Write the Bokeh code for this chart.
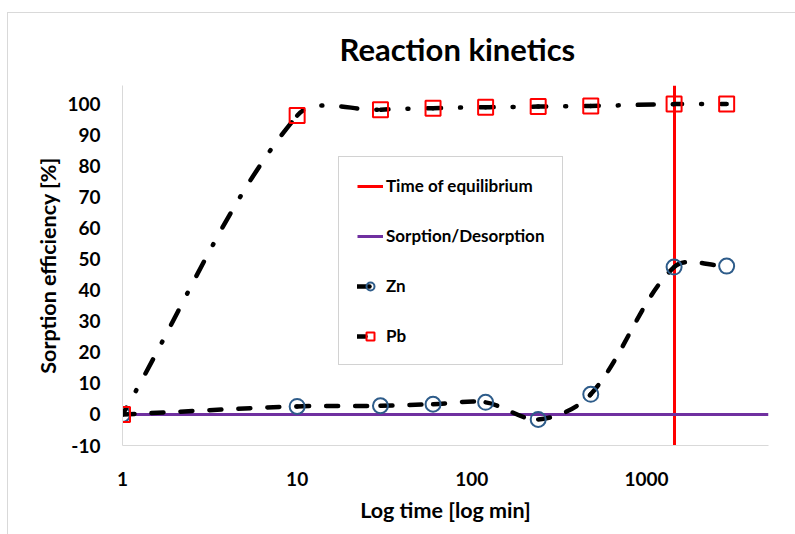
import math
from bokeh.plotting import figure
from bokeh.models import (Range1d, FixedTicker, Legend, LegendItem, InlineStyleSheet)
from bokeh.embed import file_html
from bokeh.resources import INLINE

# ---------------- data ----------------
time_min = [1, 10, 30, 60, 120, 240, 480, 1440, 2880]
zn_eff = [0, 2.6, 2.8, 3.3, 3.9, -1.6, 6.5, 47.5, 47.8]
pb_eff = [0, 96.3, 98.2, 98.7, 99.0, 99.2, 99.4, 100.0, 100.0]
equilibrium_time = [1440]
sorption_zero = [0]
x_ticks = [1, 10, 100, 1000]
x_tick_labels = ["1", "10", "100", "1000"]
y_ticks = [-10, 0, 10, 20, 30, 40, 50, 60, 70, 80, 90, 100]
y_tick_labels = ["-10", "0", "10", "20", "30", "40", "50", "60", "70", "80", "90", "100"]

FONT = "Lato"

# screen scale (px per decade / px per unit) used to shape the smoothed curve
SX, SY = 174.7, 3.11


def smooth_segments(xs, ys):
    """Cubic Bezier control points (Excel-like smoothing) in log-x space."""
    X = [math.log10(v) * SX for v in xs]
    Y = [v * SY for v in ys]
    n = len(X)

    def d(i, j):
        return math.hypot(X[j] - X[i], Y[j] - Y[i])

    out = {k: [] for k in ("x0", "y0", "x1", "y1", "cx0", "cy0", "cx1", "cy1")}
    for i in range(n - 1):
        im1 = max(i - 1, 0)
        ip2 = min(i + 2, n - 1)
        d01, d12, d23 = d(im1, i), d(i, i + 1), d(i + 1, ip2)
        r1 = d12 / (d01 + d12)
        r2 = d12 / (d12 + d23)
        c1x = X[i] + (X[i + 1] - X[im1]) * r1 / 3
        c1y = Y[i] + (Y[i + 1] - Y[im1]) * r1 / 3
        c2x = X[i + 1] - (X[ip2] - X[i]) * r2 / 3
        c2y = Y[i + 1] - (Y[ip2] - Y[i]) * r2 / 3
        out["x0"].append(xs[i]); out["y0"].append(ys[i])
        out["x1"].append(xs[i + 1]); out["y1"].append(ys[i + 1])
        out["cx0"].append(10 ** (c1x / SX)); out["cy0"].append(c1y / SY)
        out["cx1"].append(10 ** (c2x / SX)); out["cy1"].append(c2y / SY)
    return out


# light grey chart-area border (top and left edges visible, as in the reference)
chart_border = InlineStyleSheet(css="""
:host::after {
  content: "";
  position: absolute;
  left: 7px; top: 12px; right: 0; bottom: 0;
  border-top: 1px solid #D9D9D9;
  border-left: 1px solid #D9D9D9;
  pointer-events: none;
}
""")

p = figure(width=795, height=534, x_axis_type="log",
           x_range=Range1d(1, 5000), y_range=Range1d(-10, 106),
           output_backend="svg", toolbar_location=None,
           min_border_left=122, min_border_right=27,
           min_border_top=85, min_border_bottom=89,
           title="Reaction kinetics", stylesheets=[chart_border])

p.outline_line_color = None
p.xgrid.visible = False
p.ygrid.visible = False

# title
p.title.text_font = FONT
p.title.text_font_size = "31px"
p.title.text_font_style = "bold"
p.title.text_color = "#000000"
p.title.align = "left"
p.title.offset = 217
p.title.standoff = 36

# axes
for ax in (p.xaxis[0], p.yaxis[0]):
    ax.axis_line_color = "#D9D9D9"
    ax.axis_line_width = 1
    ax.major_tick_line_color = None
    ax.minor_tick_line_color = None
    ax.major_label_text_font = FONT
    ax.major_label_text_font_size = "19px"
    ax.major_label_text_font_style = "bold"
    ax.major_label_text_color = "#000000"
    ax.axis_label_text_font = FONT
    ax.axis_label_text_font_size = "21.5px"
    ax.axis_label_text_font_style = "bold"
    ax.axis_label_text_color = "#000000"

p.xaxis.ticker = FixedTicker(ticks=x_ticks, minor_ticks=[])
p.xaxis.major_label_overrides = dict(zip(x_ticks, x_tick_labels))
p.yaxis.ticker = FixedTicker(ticks=y_ticks, minor_ticks=[])
p.yaxis.major_label_overrides = dict(zip(y_ticks, y_tick_labels))
p.xaxis.axis_label = "Log time [log min]"
p.yaxis.axis_label = "Sorption efficiency [%]"
p.xaxis.major_label_standoff = 20
p.xaxis.axis_label_standoff = 8
p.yaxis.major_label_standoff = 16
p.yaxis.axis_label_standoff = 3

# reference lines (glyph renderers so they appear in the legend)
eq_line = p.vspan(x=equilibrium_time, line_color="#FF0000", line_width=3)
zero_line = p.hspan(y=sorption_zero, line_color="#7030A0", line_width=3)

ZN_DASH = "12 17"
PB_DASH = "16 19 1 19"
LW = 4.5

zn_seg = smooth_segments(time_min, zn_eff)
pb_seg = smooth_segments(time_min, pb_eff)

zn_curve = p.bezier(line_color="black", line_width=LW, line_dash=ZN_DASH,
                    line_cap="round", **zn_seg)
zn_pts = p.scatter(time_min, zn_eff, marker="circle", size=15,
                   line_color="#2E5C8A", line_width=2, fill_color=None)
pb_curve = p.bezier(line_color="black", line_width=LW, line_dash=PB_DASH,
                    line_dash_offset=8, line_cap="round", **pb_seg)
pb_pts = p.scatter(time_min, pb_eff, marker="square", size=15,
                   line_color="#FF0000", line_width=2, fill_color=None)

legend = Legend(items=[
    LegendItem(label="Time of equilibrium", renderers=[eq_line]),
    LegendItem(label="Sorption/Desorption", renderers=[zero_line]),
    LegendItem(label="Zn", renderers=[zn_curve, zn_pts]),
    LegendItem(label="Pb", renderers=[pb_curve, pb_pts]),
], location=(216, 80), padding=18, spacing=29, margin=0,
    glyph_width=26, glyph_height=20, label_height=20, label_standoff=3,
    label_text_font=FONT, label_text_font_style="bold",
    label_text_font_size="17px", label_text_color="#000000",
    border_line_color="#A6A6A6", border_line_width=1,
    background_fill_color="white", background_fill_alpha=1)
p.add_layout(legend)

with open("out.html", "w") as f:
    f.write(file_html(p, INLINE))
